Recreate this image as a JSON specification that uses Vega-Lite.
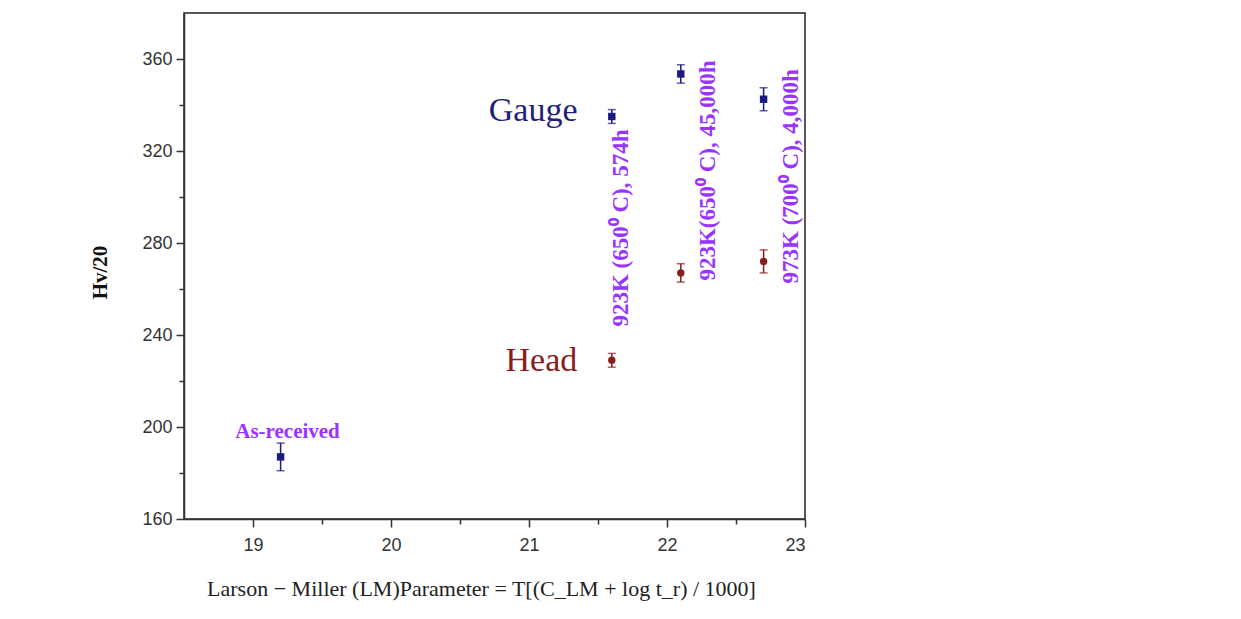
{
  "$schema": "https://vega.github.io/schema/vega-lite/v6.json",
  "autosize": "none",
  "width": 621,
  "height": 506,
  "padding": {"left": 184, "top": 13, "right": 436, "bottom": 100},
  "background": "white",
  "config": {
    "view": {"stroke": "#222", "strokeWidth": 1.5},
    "axis": {
      "domainColor": "#333", "domainWidth": 1.5, "tickColor": "#333", "tickWidth": 1.5,
      "labelFont": "Liberation Sans", "labelFontSize": 18, "labelColor": "#333", "grid": false
    }
  },
  "datasets": {
    "pts": [
      {"series": "As-received", "x": 19.2, "y": 187, "lo": 181, "hi": 193},
      {"series": "Gauge", "x": 21.6, "y": 335, "lo": 332, "hi": 338},
      {"series": "Gauge", "x": 22.1, "y": 353.5, "lo": 349.5, "hi": 357.5},
      {"series": "Gauge", "x": 22.7, "y": 342.5, "lo": 337.5, "hi": 347.5},
      {"series": "Head", "x": 21.6, "y": 229, "lo": 226, "hi": 232},
      {"series": "Head", "x": 22.1, "y": 267, "lo": 263, "hi": 271},
      {"series": "Head", "x": 22.7, "y": 272, "lo": 267, "hi": 277}
    ],
    "rot": [
      {"x": 21.67, "y": 286.5, "text": "923K (650⁰ C), 574h"},
      {"x": 22.3, "y": 311.5, "text": "923K(650⁰ C), 45,000h"},
      {"x": 22.9, "y": 309, "text": "973K (700⁰ C), 4,000h"}
    ]
  },
  "encoding": {
    "x": {
      "field": "x", "type": "quantitative",
      "scale": {"domain": [18.5, 23], "nice": false, "zero": false},
      "axis": {
        "values": [19, 19.5, 20, 20.5, 21, 21.5, 22, 22.5, 23],
        "labelExpr": "datum.value % 1 === 0 ? format(datum.value, 'd') : ''",
        "tickSize": {"condition": {"test": "datum.value % 1 === 0", "value": 8}, "value": 5},
        "labelPadding": 9,
        "title": "Larson − Miller (LM)Parameter = T[(C_LM + log t_r) / 1000]",
        "titleFont": "Liberation Serif", "titleFontSize": 22, "titleFontWeight": "normal", "titleColor": "#222",
        "titleX": 297, "titleY": 76, "titleAlign": "center", "titleBaseline": "alphabetic"
      }
    },
    "y": {
      "field": "y", "type": "quantitative",
      "scale": {"domain": [160, 380], "nice": false, "zero": false},
      "axis": {
        "values": [160, 180, 200, 220, 240, 260, 280, 300, 320, 340, 360],
        "labelExpr": "datum.value % 40 === 0 ? datum.label : ''",
        "tickSize": {"condition": {"test": "datum.value % 40 === 0", "value": 8}, "value": 5},
        "labelPadding": 4,
        "title": "Hv/20",
        "titleFont": "Liberation Serif", "titleFontSize": 21, "titleFontWeight": "bold", "titleColor": "#111",
        "titleX": -84, "titleY": 259, "titleAngle": 270, "titleAlign": "center", "titleBaseline": "middle"
      }
    }
  },
  "layer": [
    {
      "data": {"name": "pts"},
      "mark": {"type": "errorbar", "ticks": {"size": 8}, "thickness": 1.5},
      "encoding": {
        "y": {"field": "lo", "type": "quantitative"},
        "y2": {"field": "hi"},
        "color": {"field": "series", "type": "nominal", "legend": null,
          "scale": {"domain": ["As-received", "Gauge", "Head"], "range": ["#1a1a80", "#1a1a80", "#8b1c1c"]}}
      }
    },
    {
      "data": {"name": "pts"},
      "mark": {"type": "point", "filled": true, "opacity": 1},
      "encoding": {
        "shape": {"field": "series", "type": "nominal", "legend": null,
          "scale": {"domain": ["As-received", "Gauge", "Head"], "range": ["square", "square", "circle"]}},
        "size": {"field": "series", "type": "nominal", "legend": null,
          "scale": {"domain": ["As-received", "Gauge", "Head"], "range": [55, 55, 65]}},
        "color": {"field": "series", "type": "nominal", "legend": null,
          "scale": {"domain": ["As-received", "Gauge", "Head"], "range": ["#1a1a80", "#1a1a80", "#8b1c1c"]}}
      }
    },
    {
      "data": {"values": [{"x": 21.03, "y": 337.5, "text": "Gauge"}]},
      "mark": {"type": "text", "font": "Liberation Serif", "fontSize": 34, "color": "#1f1f78", "align": "center", "baseline": "middle"},
      "encoding": {"text": {"field": "text"}}
    },
    {
      "data": {"values": [{"x": 21.09, "y": 228.5, "text": "Head"}]},
      "mark": {"type": "text", "font": "Liberation Serif", "fontSize": 34, "color": "#8b1c1c", "align": "center", "baseline": "middle"},
      "encoding": {"text": {"field": "text"}}
    },
    {
      "data": {"values": [{"x": 19.25, "y": 197.8, "text": "As-received"}]},
      "mark": {"type": "text", "font": "Liberation Serif", "fontSize": 21, "fontWeight": "bold", "color": "#9933ff", "align": "center", "baseline": "middle"},
      "encoding": {"text": {"field": "text"}}
    },
    {
      "data": {"name": "rot"},
      "mark": {"type": "text", "font": "Liberation Serif", "fontSize": 23, "fontWeight": "bold", "color": "#9933ff", "align": "center", "baseline": "middle", "angle": 270},
      "encoding": {"text": {"field": "text"}}
    }
  ]
}
